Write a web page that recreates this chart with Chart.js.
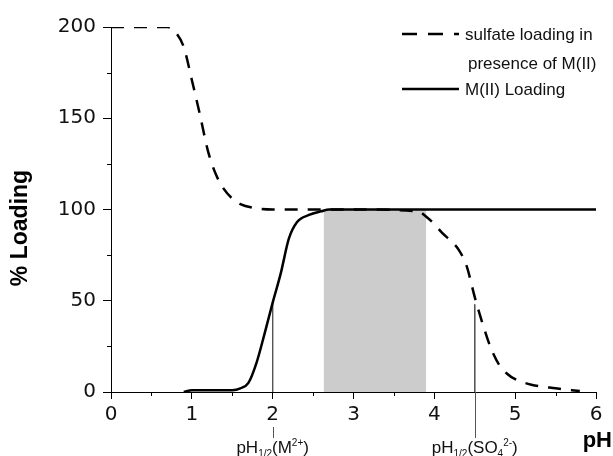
<!DOCTYPE html>
<html>
<head>
<meta charset="utf-8">
<script src="https://cdn.jsdelivr.net/npm/chart.js@4.4.0/dist/chart.umd.min.js"></script>
<style>
  html, body { margin: 0; padding: 0; background: #fff; }
  #wrap { width: 613px; height: 456px; }
</style>
</head>
<body>
<div id="wrap"><canvas id="c" width="613" height="456"></canvas></div>
<script>
// sulfate loading in presence of M(II)
const sulfatePH = [0, 0.7, 0.8, 0.9, 1.0, 1.1, 1.2, 1.3, 1.4, 1.5, 1.6, 1.75, 2.0, 3.0, 3.8, 3.9, 4.0, 4.1, 4.2, 4.3, 4.4, 4.5, 4.6, 4.7, 4.8, 4.9, 5.0, 5.2, 5.5, 5.8];
const sulfateLoad = [200, 200, 197, 189, 171, 152, 132, 119, 111, 106, 103, 101, 100, 100, 99, 96, 92, 87, 83, 78, 69, 52, 37, 24, 15, 10, 7, 4, 2, 0.5];
// M(II) loading
const metalPH = [0.9, 1.0, 1.5, 1.6, 1.7, 1.8, 1.9, 2.0, 2.1, 2.2, 2.3, 2.45, 2.6, 2.7, 6.0];
const metalLoad = [0, 1, 1, 2, 5, 16, 32, 49, 65, 84, 93, 97, 99, 100, 100];
// shaded window
const windowPH = [2.63, 3.9];
const windowLoad = [100, 100];
// pH 1/2 markers
const halfPH = [2.0, 4.5];
const halfLoad = [49, 48];
const halfLabels = [['pH', '1/2', '(M', '2+', ')'], ['pH', '1/2', '(SO', '4', '2-', ')']];

const legendLabels = [['sulfate loading in', 'presence of M(II)'], ['M(II) Loading']];
const xTicks = [0, 1, 2, 3, 4, 5, 6];
const yTicks = [0, 50, 100, 150, 200];

const pts = (xs, ys) => xs.map((x, i) => ({ x: x, y: ys[i] }));
const FONT = 'Arial, "Liberation Sans", sans-serif';
const TICKFONT = '"DejaVu Sans", sans-serif';

const extras = {
  id: 'extras',
  afterDraw(chart) {
    const ctx = chart.ctx;
    const xs = chart.scales.x, ys = chart.scales.y;
    const bottom = ys.getPixelForValue(0);
    const left = xs.getPixelForValue(0);
    ctx.save();
    ctx.strokeStyle = '#000';
    ctx.lineWidth = 1;
    // minor ticks
    for (let v = 0.5; v < 6; v += 1) {
      const px = Math.round(xs.getPixelForValue(v)) + 0.5;
      ctx.beginPath(); ctx.moveTo(px, bottom); ctx.lineTo(px, bottom + 4); ctx.stroke();
    }
    for (let v = 25; v < 200; v += 50) {
      const py = Math.round(ys.getPixelForValue(v)) + 0.5;
      ctx.beginPath(); ctx.moveTo(left, py); ctx.lineTo(left - 4, py); ctx.stroke();
    }
    // marker stubs below the axis
    ctx.strokeStyle = '#555';
    halfPH.forEach((v, i) => {
      const px = Math.round(xs.getPixelForValue(v)) + 0.5;
      ctx.beginPath();
      ctx.moveTo(px, i === 0 ? bottom + 35 : bottom);
      ctx.lineTo(px, bottom + 46);
      ctx.stroke();
    });
    // marker labels with sub/superscripts
    ctx.fillStyle = '#111';
    ctx.textBaseline = 'alphabetic';
    halfLabels.forEach((parts, i) => {
      const cx = xs.getPixelForValue(halfPH[i]);
      const base = bottom + 61;
      const big = '17px ' + FONT, small = '10px ' + FONT;
      const segs = i === 0
        ? [[parts[0], big, 0], [parts[1], small, 4], [parts[2], big, 0], [parts[3], small, -7], [parts[4], big, 0]]
        : [[parts[0], big, 0], [parts[1], small, 4], [parts[2], big, 0], [parts[3], small, 4], [parts[4], small, -7], [parts[5], big, 0]];
      let w = 0;
      segs.forEach(s => { ctx.font = s[1]; w += ctx.measureText(s[0]).width; });
      let x = cx - w / 2;
      segs.forEach(s => {
        ctx.font = s[1];
        ctx.fillText(s[0], x, base + s[2]);
        x += ctx.measureText(s[0]).width;
      });
    });
    // axis titles
    ctx.fillStyle = '#000';
    ctx.font = 'bold 22px ' + FONT;
    ctx.textAlign = 'right';
    ctx.fillText('pH', 612, bottom + 55);
    ctx.save();
    ctx.translate(21, 228);
    ctx.rotate(-Math.PI / 2);
    ctx.textAlign = 'center';
    ctx.textBaseline = 'middle';
    ctx.font = 'bold 23px ' + FONT;
    ctx.fillText('% Loading', 0, 0);
    ctx.restore();
    // legend
    ctx.textAlign = 'left';
    ctx.textBaseline = 'alphabetic';
    ctx.font = '17px ' + FONT;
    ctx.fillStyle = '#111';
    ctx.strokeStyle = '#000';
    ctx.lineWidth = 2.5;
    const lx0 = 402, lx1 = 459, tx = 465;
    ctx.setLineDash([15, 11]);
    ctx.beginPath(); ctx.moveTo(lx0, 34); ctx.lineTo(lx1, 34); ctx.stroke();
    ctx.setLineDash([]);
    ctx.beginPath(); ctx.moveTo(lx0, 89); ctx.lineTo(lx1, 89); ctx.stroke();
    ctx.fillText(legendLabels[0][0], tx, 40);
    ctx.fillText(legendLabels[0][1], tx + 3, 69);
    ctx.fillText(legendLabels[1][0], tx, 95);
    ctx.restore();
  }
};

new Chart(document.getElementById('c'), {
  type: 'line',
  data: {
    datasets: [
      {
        label: 'window',
        data: pts(windowPH, windowLoad),
        borderWidth: 0,
        backgroundColor: '#cccccc',
        fill: 'origin',
        pointRadius: 0,
        order: 5
      },
      {
        label: 'pH1/2 M',
        data: [{ x: halfPH[0], y: halfLoad[0] }, { x: halfPH[0], y: 0 }],
        borderColor: '#555',
        borderWidth: 1,
        pointRadius: 0,
        order: 4
      },
      {
        label: 'pH1/2 SO4',
        data: [{ x: halfPH[1], y: halfLoad[1] }, { x: halfPH[1], y: 0 }],
        borderColor: '#555',
        borderWidth: 1,
        pointRadius: 0,
        order: 4
      },
      {
        label: legendLabels[1][0],
        data: pts(metalPH, metalLoad),
        borderColor: '#000',
        borderWidth: 2.5,
        pointRadius: 0,
        cubicInterpolationMode: 'monotone',
        order: 2
      },
      {
        label: legendLabels[0].join(' '),
        data: pts(sulfatePH, sulfateLoad),
        borderColor: '#000',
        borderWidth: 2.5,
        borderDash: [13, 10],
        pointRadius: 0,
        cubicInterpolationMode: 'monotone',
        order: 1
      }
    ]
  },
  options: {
    responsive: false,
    animation: false,
    layout: { padding: { top: 27, right: 17, left: 0, bottom: 0 } },
    scales: {
      x: {
        type: 'linear',
        min: 0,
        max: 6,
        afterFit(s) { s.height = 64; },
        afterBuildTicks(s) { s.ticks = xTicks.map(v => ({ value: v })); },
        border: { color: '#000', width: 1 },
        grid: { drawOnChartArea: false, color: '#000', tickLength: 7 },
        ticks: { color: '#111', font: { family: TICKFONT, size: 20 }, padding: 4 }
      },
      y: {
        min: 0,
        max: 200,
        afterFit(s) { s.width = 111; },
        afterBuildTicks(s) { s.ticks = yTicks.map(v => ({ value: v })); },
        border: { color: '#000', width: 1 },
        grid: { drawOnChartArea: false, color: '#000', tickLength: 8 },
        ticks: { color: '#111', font: { family: TICKFONT, size: 20 }, padding: 7 }
      }
    },
    plugins: {
      legend: { display: false },
      tooltip: { enabled: false }
    }
  },
  plugins: [extras]
});
</script>
</body>
</html>
